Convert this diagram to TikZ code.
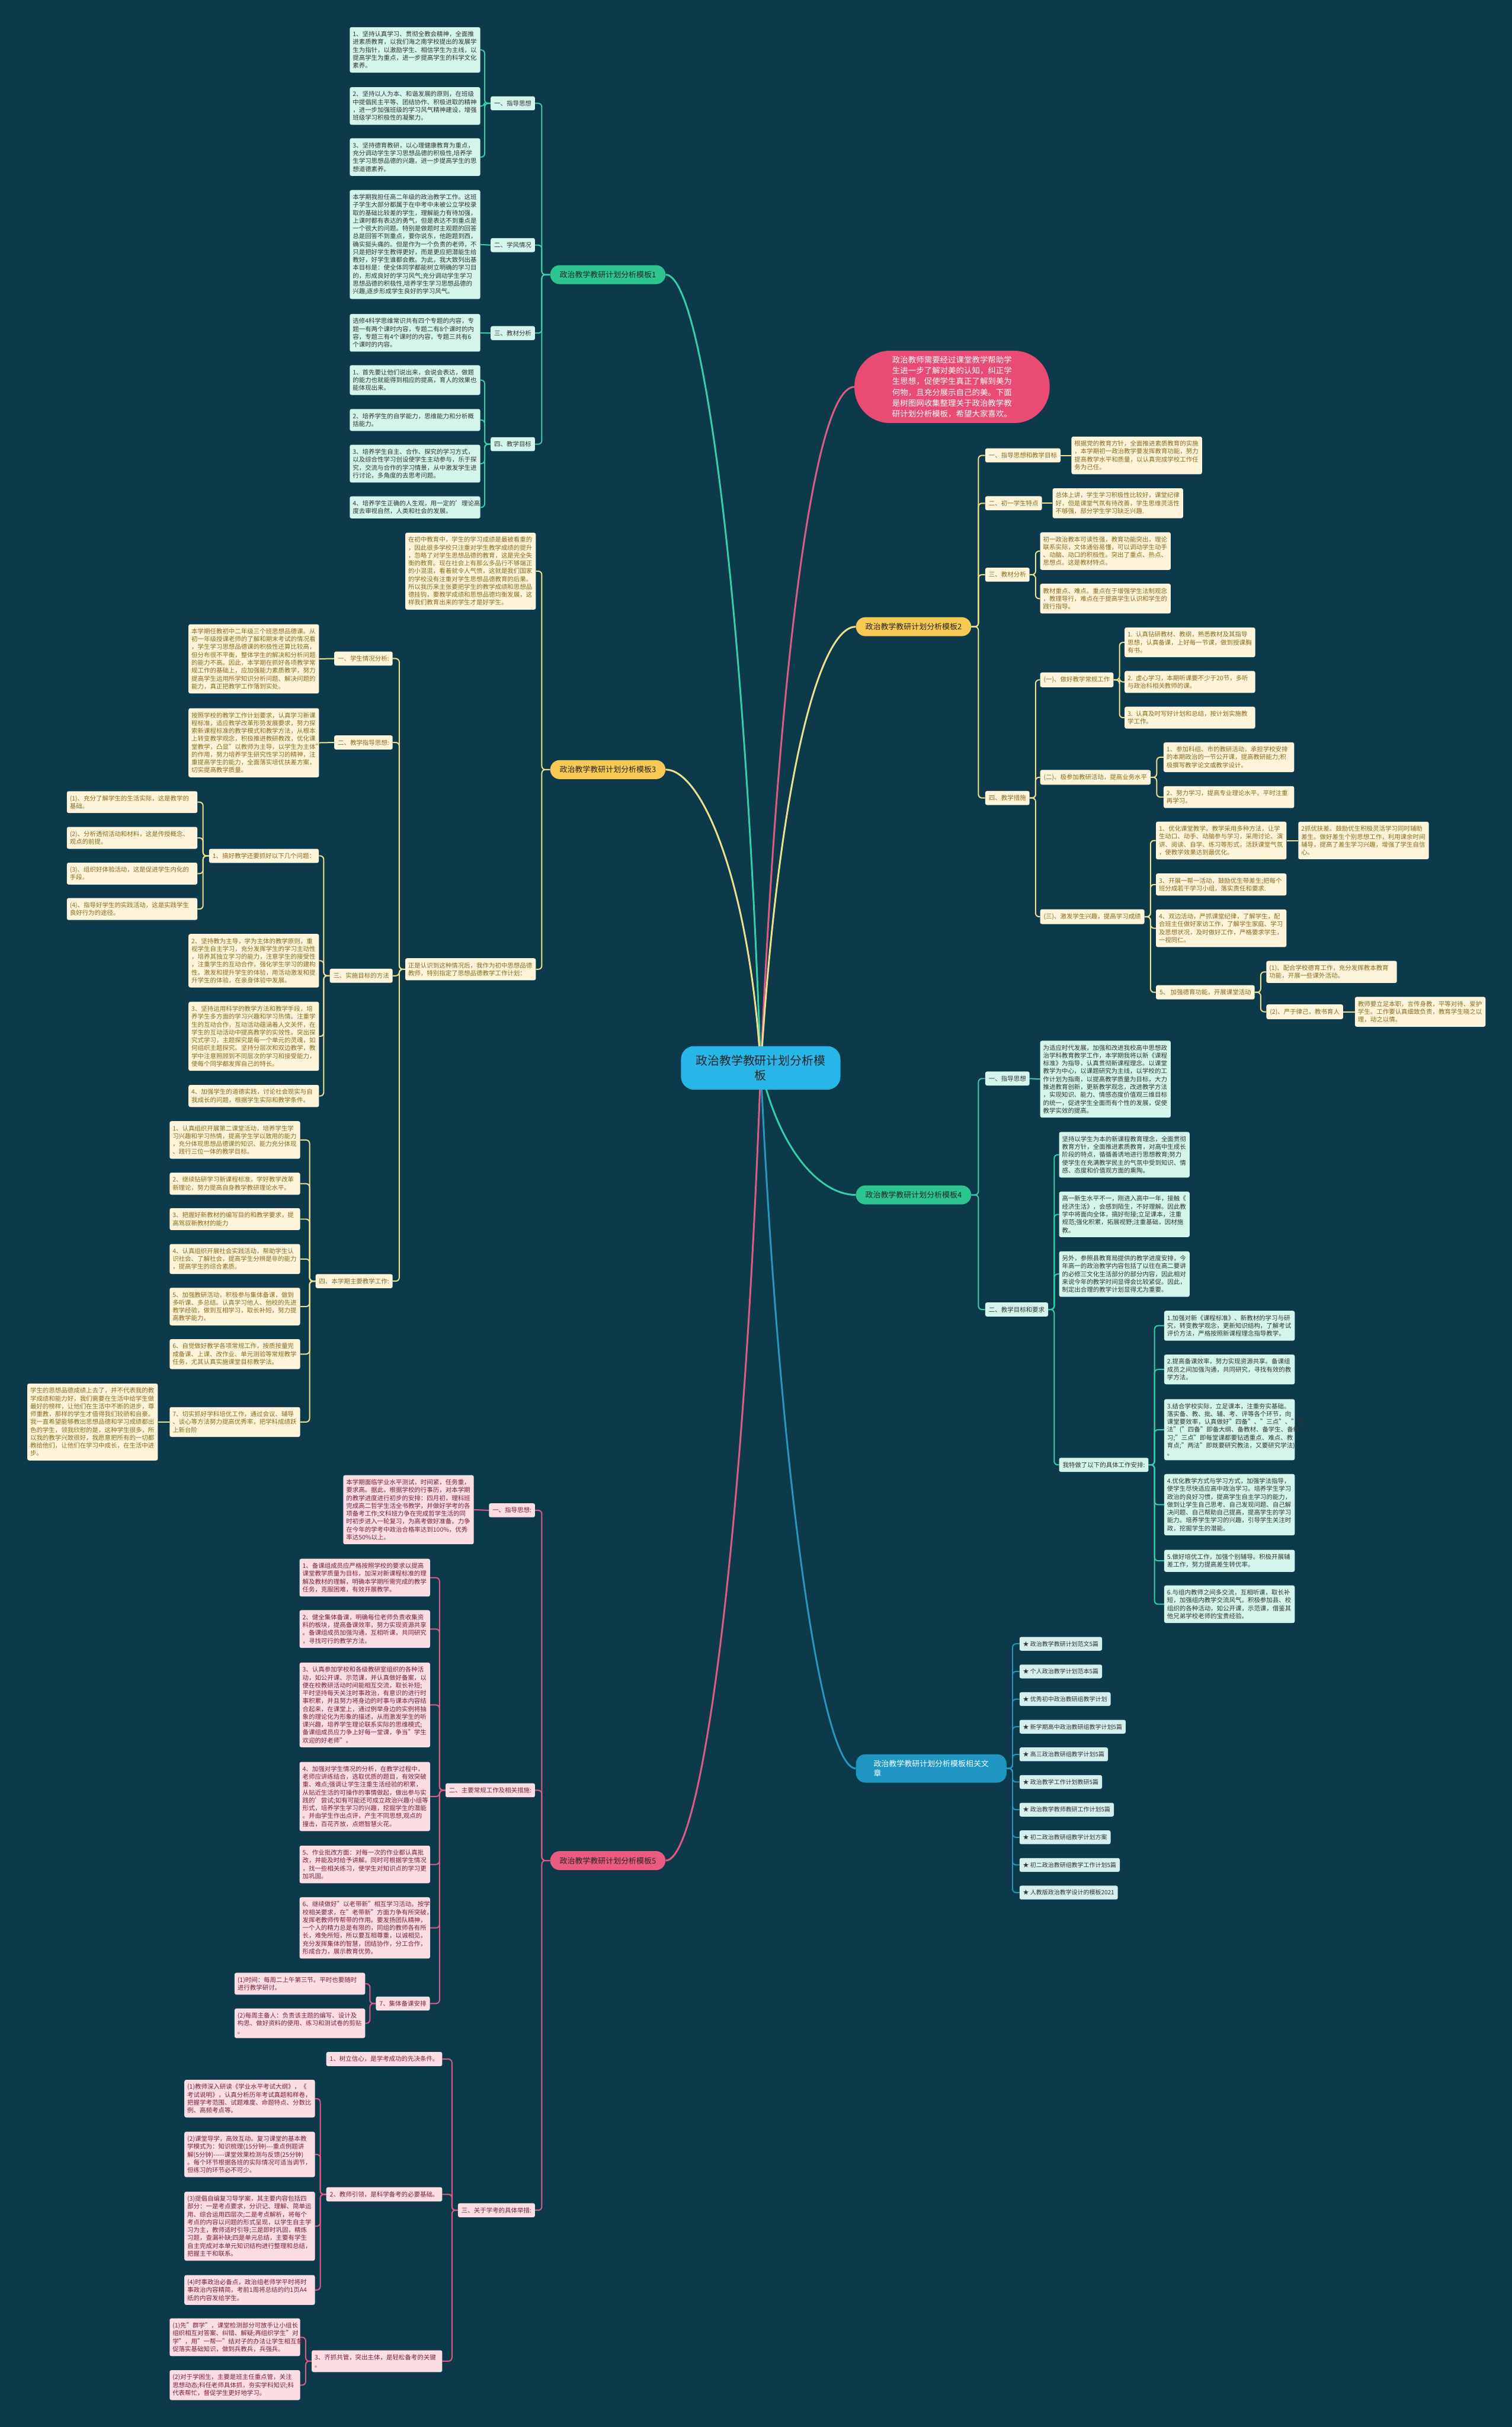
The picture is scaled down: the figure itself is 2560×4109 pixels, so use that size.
\documentclass[tikz,border=0pt]{standalone}
\usepackage{fontspec}
\setmainfont{Noto Sans CJK SC}
\usetikzlibrary{backgrounds}

\definecolor{bgcol}{HTML}{0C3A4A}
\definecolor{mintfill}{HTML}{D3F5EC}
\definecolor{minttext}{HTML}{333333}
\definecolor{mintline}{HTML}{35D0A8}
\definecolor{greenmain}{HTML}{2CC58F}
\definecolor{creamfill}{HTML}{FDF4DA}
\definecolor{creamtext}{HTML}{8C6A1C}
\definecolor{yellowline}{HTML}{EFDF8E}
\definecolor{yellowmain}{HTML}{F7C852}
\definecolor{rosefill}{HTML}{FCDDE3}
\definecolor{rosetext}{HTML}{7E1F3B}
\definecolor{roseline}{HTML}{DD5B84}
\definecolor{rosemain}{HTML}{EB5A80}
\definecolor{bubfill}{HTML}{EA4B73}
\definecolor{bluemain}{HTML}{1F95C2}
\definecolor{blueline}{HTML}{2A96BF}
\definecolor{artfill}{HTML}{D5EFEE}
\definecolor{rootfill}{HTML}{27B6E7}

\newcommand{\leaffnt}{\fontsize{10.5}{13.3}\selectfont}
\newcommand{\brfnt}{\fontsize{13}{16}\selectfont}
\newcommand{\rootfnt}{\fontsize{20}{25}\selectfont}
\newcommand{\bubfnt}{\fontsize{13.5}{18.3}\selectfont}
\newcommand{\artfnt}{\fontsize{10}{12}\selectfont}

\tikzset{
  leaf/.style={rounded corners=3pt, inner xsep=5pt, inner ysep=7pt, text width=211pt, align=left, font=\leaffnt},
  sub/.style={rounded corners=3pt, inner xsep=6pt, inner ysep=7pt, font=\leaffnt},
  mint/.style={fill=mintfill, text=minttext},
  cream/.style={fill=creamfill, text=creamtext},
  rose/.style={fill=rosefill, text=rosetext},
  art/.style={fill=artfill, text=minttext, rounded corners=3pt, inner xsep=6pt, inner ysep=7pt, font=\artfnt},
  branch/.style={rounded corners=16pt, inner xsep=16pt, inner ysep=10pt, font=\brfnt, text=black!85},
  link/.style={line width=2pt, rounded corners=6pt},
  trunk/.style={line width=3pt},
}

\begin{document}
\begin{tikzpicture}[x=1pt, y=-1pt]
\useasboundingbox (0,0) rectangle (2560,4109);
\begin{pgfonlayer}{background}
\fill[bgcol] (0,0) rectangle (2560,4109);
\end{pgfonlayer}

\node[fill=rootfill, text=black!85, rounded corners=22pt, inner xsep=25pt, inner ysep=15pt, align=center, font=\rootfnt] (root) at (1288,1808) {政治教学教研计划分析模\\板};

\node[fill=bubfill, text=white, rounded corners=60pt, inner xsep=64pt, inner ysep=9pt, align=left, font=\bubfnt] (bub) at (1612,655) {政治教师需要经过课堂教学帮助学\\生进一步了解对美的认知，纠正学\\生思想，促使学生真正了解到美为\\何物，且充分展示自己的美。下面\\是树图网收集整理关于政治教学教\\研计划分析模板，希望大家喜欢。};

% branch 1
\node[branch, fill=greenmain, anchor=east] (b1) at (1127,465) {政治教学教研计划分析模板1};
\node[sub, mint, anchor=east] (b1s1) at (906,175) {一、指导思想};
\node[sub, mint, anchor=east] (b1s2) at (906,415) {二、学风情况};
\node[sub, mint, anchor=east] (b1s3) at (906,564) {三、教材分析};
\node[sub, mint, anchor=east] (b1s4) at (906,752) {四、教学目标};
\node[leaf, mint, anchor=west] (b1l1) at (592,84.5) {1、坚持认真学习、贯彻全教会精神，全面推\\进素质教育，以我们海之南学校提出的发展学\\生为指针，以激励学生、相信学生为主线，以\\提高学生为重点，进一步提高学生的科学文化\\素养。};
\node[leaf, mint, anchor=west] (b1l2) at (592,179.5) {2、坚持以人为本、和谐发展的原则，在班级\\中提倡民主平等、团结协作、积极进取的精神\\，进一步加强班级的学习风气精神建设，增强\\班级学习积极性的凝聚力。};
\node[leaf, mint, anchor=west] (b1l3) at (592,266) {3、坚持德育教研，以心理健康教育为重点，\\充分调动学生学习思想品德的积极性,培养学\\生学习思想品德的兴趣，进一步提高学生的思\\想道德素养。};
\node[leaf, mint, anchor=west] (b1l4) at (592,414) {本学期我担任高二年级的政治教学工作。这班\\子学生大部分都属于在中考中未被公立学校录\\取的基础比较差的学生，理解能力有待加强，\\上课时都有表达的勇气，但是表达不到重点是\\一个很大的问题。特别是做题时主观题的回答\\总是回答不到重点，要你说东，他跑题到西，\\确实挺头痛的。但是作为一个负责的老师，不\\只是把好学生教得更好，而是更应把潜能生给\\教好，好学生谁都会教。为此，我大致列出基\\本目标是：使全体同学都能树立明确的学习目\\的，形成良好的学习风气;充分调动学生学习\\思想品德的积极性,培养学生学习思想品德的\\兴趣,逐步形成学生良好的学习风气。};
\node[leaf, mint, anchor=west] (b1l5) at (592,563.5) {选修4科学思维常识共有四个专题的内容，专\\题一有两个课时内容，专题二有8个课时的内\\容，专题三有4个课时的内容，专题三共有6\\个课时的内容。};
\node[leaf, mint, anchor=west] (b1l6) at (592,643.5) {1、首先要让他们说出来，会说会表达，做题\\的能力也就能得到相应的提高，育人的效果也\\能体现出来。};
\node[leaf, mint, anchor=west] (b1l7) at (592,711) {2、培养学生的自学能力，思维能力和分析概\\括能力。};
\node[leaf, mint, anchor=west] (b1l8) at (592,785) {3、培养学生自主、合作、探究的学习方式，\\以及综合性学习创设使学生主动参与，乐于探\\究，交流与合作的学习情景，从中激发学生进\\行讨论，多角度的去思考问题。};
\node[leaf, mint, anchor=west] (b1l9) at (592,859) {4、培养学生正确的人生观，用一定的'理论高\\度去审视自然，人类和社会的发展。};

% branch 2
\node[branch, fill=yellowmain, anchor=west] (b2) at (1449,1061) {政治教学教研计划分析模板2};
\node[sub, cream, anchor=west] (b2s1) at (1668,771) {一、指导思想和教学目标};
\node[sub, cream, anchor=west] (b2s2) at (1668,852) {二、初一学生特点};
\node[sub, cream, anchor=west] (b2s3) at (1668,973) {三、教材分析};
\node[sub, cream, anchor=west] (b2s4) at (1668,1351) {四、教学措施};
\node[leaf, cream, anchor=west] (b2l1) at (1814,771) {根据党的教育方针，全面推进素质教育的实施\\，本学期初一政治教学要发挥教育功能，努力\\提高教学水平和质量，以认真完成学校工作任\\务为己任。};
\node[leaf, cream, anchor=west] (b2l2) at (1782,852) {总体上讲，学生学习积极性比较好，课堂纪律\\好，但是课堂气氛有待改善，学生思维灵活性\\不够强，部分学生学习缺乏兴趣.};
\node[leaf, cream, anchor=west] (b2l3) at (1761,933) {初一政治教本可读性强，教育功能突出，理论\\联系实际，文体通俗易懂，可以调动学生动手\\、动脑、动口的积极性。突出了重点、热点、\\思想点。这是教材特点。};
\node[leaf, cream, anchor=west] (b2l4) at (1761,1013.5) {教材重点、难点。重点在于增强学生法制观念\\，教理导行，难点在于提高学生认识和学生的\\践行指导。};
\node[sub, cream, anchor=west] (b2m1) at (1761,1151) {(一)、做好教学常规工作};
\node[sub, cream, anchor=west] (b2m2) at (1761,1316) {(二)、极参加教研活动，提高业务水平};
\node[sub, cream, anchor=west] (b2m3) at (1761,1552) {(三)、激发学生兴趣，提高学习成绩};
\node[leaf, cream, anchor=west] (b2a1) at (1904,1087.5) {1. 认真钻研教材、教纲，熟悉教材及其指导\\思想，认真备课，上好每一节课，做到授课胸\\有书。};
\node[leaf, cream, anchor=west] (b2a2) at (1904,1154.5) {2. 虚心学习，本期听课要不少于20节，多听\\与政治科相关教师的课。};
\node[leaf, cream, anchor=west] (b2a3) at (1904,1215) {3. 认真及时写好计划和总结，按计划实施教\\学工作。};
\node[leaf, cream, anchor=west] (b2b1) at (1970,1282) {1、参加科组、市的教研活动，承担学校安排\\的本期政治的一节公开课，提高教研能力;积\\极撰写教学论文或教学设计。};
\node[leaf, cream, anchor=west] (b2b2) at (1970,1349.5) {2、努力学习，提高专业理论水平。平时注重\\再学习。};
\node[leaf, cream, anchor=west] (b2c1) at (1957,1423) {1、优化课堂教学。教学采用多种方法，让学\\生动口、动手、动脑参与学习，采用讨论、演\\讲、阅读、自学、练习等形式，活跃课堂气氛\\，使教学效果达到最优化。};
\node[leaf, cream, anchor=west] (b2c1x) at (2198,1423) {2抓优扶差。鼓励优生积极灵活学习同时辅助\\差生。做好差生个别思想工作，利用课余时间\\辅导，提高了差生学习兴趣，增强了学生自信\\心。};
\node[leaf, cream, anchor=west] (b2c3) at (1957,1497.5) {3、开展一帮一活动，鼓励优生带差生;把每个\\班分成若干学习小组，落实责任和要求.};
\node[leaf, cream, anchor=west] (b2c4) at (1957,1571.5) {4、双边活动，严抓课堂纪律，了解学生，配\\合班主任做好家访工作，了解学生家庭、学习\\及思想状况，及时做好工作，严格要求学生，\\一视同仁。};
\node[sub, cream, anchor=west] (b2c5) at (1957,1680) {5、 加强德育功能，开展课堂活动};
\node[leaf, cream, anchor=west] (b2d1) at (2144,1645.5) {(1)、配合学校德育工作，充分发挥教本教育\\功能，开展一些课外活动。};
\node[sub, cream, anchor=west] (b2d2) at (2144,1713) {(2)、严于律己，教书育人};
\node[leaf, cream, anchor=west] (b2d3) at (2294,1713) {教师要立足本职，言传身教，平等对待、爱护\\学生。工作要认真细致负责，教育学生晓之以\\理，动之以情。};

% branch 3
\node[branch, fill=yellowmain, anchor=east] (b3) at (1127,1303) {政治教学教研计划分析模板3};
\node[leaf, cream, anchor=west] (b3p1) at (686,967) {在初中教育中，学生的学习成绩是最被看重的\\，因此很多学校只注重对学生教学成绩的提升\\，忽略了对学生思想品德的教育，这是完全失\\衡的教育。现在社会上有那么多品行不够端正\\的小混混，看着就令人气愤，这就是我们国家\\的学校没有注重对学生思想品德教育的后果。\\所以我历来主张要把学生的教学成绩和思想品\\德挂钩，要教学成绩和思想品德均衡发展，这\\样我们教育出来的学生才是好学生。};
\node[leaf, cream, anchor=west] (b3p2) at (686,1641) {正是认识到这种情况后，我作为初中思想品德\\教师，特别指定了思想品德教学工作计划：};
\node[sub, cream, anchor=east] (b3s1) at (665,1115) {一、学生情况分析:};
\node[sub, cream, anchor=east] (b3s2) at (665,1257) {二、教学指导思想:};
\node[sub, cream, anchor=east] (b3s3) at (665,1652) {三、实施目标的方法};
\node[sub, cream, anchor=east] (b3s4) at (665,2169) {四、本学期主要教学工作:};
\node[leaf, cream, anchor=west] (b3l1) at (319,1115.5) {本学期任教初中二年级三个班思想品德课。从\\初一年级授课老师的了解和期末考试的情况看\\，学生学习思想品德课的积极性还算比较高，\\但分布很不平衡，整体学生的解决和分析问题\\的能力不高。因此，本学期在抓好各项教学常\\规工作的基础上，应加强能力素质教学，努力\\提高学生运用所学知识分析问题、解决问题的\\能力，真正把教学工作落到实处。};
\node[leaf, cream, anchor=west] (b3l2) at (319,1257.5) {按照学校的教学工作计划要求，认真学习新课\\程标准，适应教学改革形势发展要求，努力探\\索新课程标准的教学模式和教学方法，从根本\\上转变教学观念，积极推进教研教改，优化课\\堂教学，凸显"以教师为主导，以学生为主体"\\的作用，努力培养学生研究性学习的精神，注\\重提高学生的能力，全面落实培优扶差方案，\\切实提高教学质量。};
\node[sub, cream, anchor=east] (b3t1) at (540,1449) {1、搞好教学还要抓好以下几个问题：};
\node[leaf, cream, anchor=west] (b3q1) at (113,1358) {(1)、充分了解学生的生活实际，这是教学的\\基础。};
\node[leaf, cream, anchor=west] (b3q2) at (113,1418.5) {(2)、分析透彻活动和材料，这是传授概念、\\观点的前提。};
\node[leaf, cream, anchor=west] (b3q3) at (113,1479) {(3)、组织好体验活动，这是促进学生内化的\\手段。};
\node[leaf, cream, anchor=west] (b3q4) at (113,1539) {(4)、指导好学生的实践活动，这是实践学生\\良好行为的途径。};
\node[leaf, cream, anchor=west] (b3t2) at (319,1626.5) {2、坚持教为主导，学为主体的教学原则，重\\视学生自主学习，充分发挥学生的学习主动性\\，培养其独立学习的能力，注意学生的接受性\\，注重学生的互动合作，强化学生学习的建构\\性。激发和提升学生的体验，用活动激发和提\\升学生的体验，在亲身体验中发展。};
\node[leaf, cream, anchor=west] (b3t3) at (319,1754.5) {3、坚持运用科学的教学方法和教学手段，培\\养学生多方面的学习兴趣和学习热情。注重学\\生的互动合作，互动活动蕴涵着人文关怀，在\\学生的互动活动中提高教学的实效性。突出探\\究式学习，主题探究是每一个单元的灵魂，如\\何组织主题探究。坚持分层次和双边教学，教\\学中注意照顾到不同层次的学习和接受能力，\\使每个同学都发挥自己的特长。};
\node[leaf, cream, anchor=west] (b3t4) at (319,1855.5) {4、加强学生的道德实践，讨论社会现实与自\\我成长的问题，根据学生实际和教学条件。};
\node[leaf, cream, anchor=west] (b3w1) at (287,1930) {1、认真组织开展第二课堂活动，培养学生学\\习兴趣和学习热情，提高学生学以致用的能力\\，充分体现思想品德课的知识、能力充分体现\\、践行三位一体的教学目标。};
\node[leaf, cream, anchor=west] (b3w2) at (287,2004) {2、继续钻研学习新课程标准，学好教学改革\\新理论，努力提高自身教学教研理论水平。};
\node[leaf, cream, anchor=west] (b3w3) at (287,2064) {3、把握好新教材的编写目的和教学要求，提\\高驾驭新教材的能力};
\node[leaf, cream, anchor=west] (b3w4) at (287,2131.5) {4、认真组织开展社会实践活动，帮助学生认\\识社会、了解社会，提高学生分辨是非的能力\\，提高学生的综合素质。};
\node[leaf, cream, anchor=west] (b3w5) at (287,2212) {5、加强教研活动，积极参与集体备课，做到\\多听课、多总结。认真学习他人、他校的先进\\教学经验，做到互相学习，取长补短，努力提\\高教学能力。};
\node[leaf, cream, anchor=west] (b3w6) at (287,2292.5) {6、自觉做好教学各项常规工作，按质按量完\\成备课、上课、改作业、单元测验等常规教学\\任务，尤其认真实施课堂目标教学法。};
\node[leaf, cream, anchor=west] (b3w7) at (287,2407.5) {7、切实抓好学科培优工作，通过会议、辅导\\、谈心等方法努力提高优秀率，把学科成绩跃\\上新台阶};
\node[leaf, cream, anchor=west] (b3w7x) at (46,2407.5) {学生的思想品德成绩上去了，并不代表我的教\\学成绩和能力好，我们需要在生活中给学生做\\最好的榜样，让他们在生活中不断的进步，尊\\师重教，那样的学生才值得我们较骄和自豪。\\我一直希望能够教出思想品德和学习成绩都出\\色的学生，领我欣慰的是，这种学生很多，所\\以我的教学兴致很好，我愿意把所有的一切都\\教给他们，让他们在学习中成长，在生活中进\\步。};

% branch 4
\node[branch, fill=greenmain, anchor=west] (b4) at (1449,2023) {政治教学教研计划分析模板4};
\node[sub, mint, anchor=west] (b4s1) at (1668,1826) {一、指导思想};
\node[sub, mint, anchor=west] (b4s2) at (1668,2217) {二、教学目标和要求};
\node[leaf, mint, anchor=west] (b4l1) at (1761,1827) {为适应时代发展，加强和改进我校高中思想政\\治学科教育教学工作，本学期我将以新《课程\\标准》为指导，认真贯彻新课程理念。以课堂\\教学为中心，以课题研究为主线，以学校的工\\作计划为指南，以提高教学质量为目标，大力\\推进教育创新，更新教学观念，改进教学方法\\，实现知识、能力、情感态度价值观三维目标\\的统一，促进学生全面而有个性的发展，促使\\教学实效的提高。};
\node[leaf, mint, anchor=west] (b4a) at (1793,1955) {坚持以学生为本的新课程教育理念，全面贯彻\\教育方针，全面推进素质教育，对高中生成长\\阶段的特点，循循善诱地进行思想教育;努力\\使学生在充满教学民主的气氛中受到知识、情\\感、态度和价值观方面的熏陶。};
\node[leaf, mint, anchor=west] (b4b) at (1793,2056) {高一新生水平不一，刚进入高中一年，接触《\\经济生活》，会感到陌生，不好理解。因此教\\学中将面向全体，搞好衔接;立足课本，注重\\规范;强化积累，拓展视野;注重基础，因材施\\教。};
\node[leaf, mint, anchor=west] (b4c) at (1793,2157) {另外，参照县教育局提供的教学进度安排，今\\年高一的政治教学内容包括了以往在高二要讲\\的必修三文化生活部分的部分内容，因此相对\\来说今年的教学时间显得会比较紧促。因此，\\制定出合理的教学计划显得尤为重要。};
\node[sub, mint, anchor=west] (b4d) at (1793,2480) {我特做了以下的具体工作安排:};
\node[leaf, mint, anchor=west] (b4k1) at (1971,2244.5) {1.加强对新《课程标准》、新教材的学习与研\\究，转变教学观念，更新知识结构，了解考试\\评价方法，严格按照新课程理念指导教学。};
\node[leaf, mint, anchor=west] (b4k2) at (1971,2318.5) {2.提高备课效率，努力实现资源共享。备课组\\成员之间加强沟通，共同研究，寻找有效的教\\学方法。};
\node[leaf, mint, anchor=west] (b4k3) at (1971,2420.5) {3.结合学校实际，立足课本，注重夯实基础。\\落实备、教、批、辅、考、评等各个环节，向\\课堂要效率，认真做好"四备"、"三点"、"两\\法"("四备"即备大纲、备教材、备学生、备练\\习;"三点"即每堂课都要钻透重点、难点、教\\育点;"两法"即既要研究教法，又要研究学法)\\。};
\node[leaf, mint, anchor=west] (b4k4) at (1971,2547.5) {4.优化教学方式与学习方式，加强学法指导，\\使学生尽快适应高中政治学习。培养学生学习\\政治的良好习惯，提高学生自主学习的能力，\\做到让学生自己思考、自己发现问题、自己解\\决问题、自己帮助自己提高，提高学生的学习\\能力。培养学生学习的兴趣，引导学生关注时\\政，挖掘学生的潜能。};
\node[leaf, mint, anchor=west] (b4k5) at (1971,2642.5) {5.做好培优工作，加强个别辅导。积极开展辅\\差工作，努力提高差生转优率。};
\node[leaf, mint, anchor=west] (b4k6) at (1971,2716) {6.与组内教师之间多交流，互相听课，取长补\\短，加强组内教学交流风气。积极参加县、校\\组织的各种活动，如公开课，示范课，借鉴其\\他兄弟学校老师的宝贵经验。};

% related
\node[branch, fill=bluemain, text=white, anchor=west, align=left, inner xsep=30pt] (rel) at (1449,2994) {政治教学教研计划分析模板相关文\\章};
\foreach \t [count=\i] in {政治教学教研计划范文5篇, 个人政治教学计划范本5篇, 优秀初中政治教研组教学计划, 新学期高中政治教研组教学计划5篇, 高三政治教研组教学计划5篇, 政治教学工作计划教研5篇, 政治教学教师教研工作计划5篇, 初二政治教研组教学计划方案, 初二政治教研组教学工作计划5篇, 人教版政治教学设计的模板2021}
  \node[art, anchor=west] (art\i) at (1726,{2736.2+46.8*\i}) {★ \t};

% branch 5
\node[branch, fill=rosemain, anchor=east] (b5) at (1127,3150) {政治教学教研计划分析模板5};
\node[sub, rose, anchor=east] (b5s1) at (906,2557) {一、指导思想:};
\node[sub, rose, anchor=east] (b5s2) at (906,3031) {二、主要常规工作及相关措施:};
\node[sub, rose, anchor=east] (b5s3) at (906,3742) {三、关于学考的具体举措:};
\node[leaf, rose, anchor=west] (b5l1) at (581,2556) {本学期面临学业水平测试，时间紧，任务重，\\要求高。据此，根据学校的行事历，对本学期\\的教学进度进行初步的安排：四月初，理科班\\完成高二哲学生活全书教学，并做好学考的各\\项备考工作;文科班力争在完成哲学生活的同\\时初步进入一轮复习，为高考做好准备。力争\\在今年的学考中政治合格率达到100\%，优秀\\率达50\%以上。};
\node[leaf, rose, anchor=west] (b5m1) at (507,2671) {1、备课组成员应严格按照学校的要求以提高\\课堂教学质量为目标，加深对新课程标准的理\\解及教材的理解，明确本学期所需完成的教学\\任务，克服困难，有效开展教学。};
\node[leaf, rose, anchor=west] (b5m2) at (507,2758) {2、健全集体备课，明确每位老师负责收集资\\料的板块，提高备课效率，努力实现资源共享\\。备课组成员加强沟通，互相听课，共同研究\\，寻找可行的教学方法。};
\node[leaf, rose, anchor=west] (b5m3) at (507,2886.5) {3、认真参加学校和各级教研室组织的各种活\\动，如公开课、示范课，并认真做好备案，以\\便在校教研活动时间能相互交流，取长补短;\\平时坚持每天关注时事政治，有意识的进行时\\事积累，并且努力将身边的时事与课本内容结\\合起来，在课堂上，通过例举身边的实例将抽\\象的理论化为形象的描述，从而激发学生的听\\课兴趣，培养学生理论联系实际的思维模式;\\备课组成员应力争上好每一堂课，争当"学生\\欢迎的好老师"。};
\node[leaf, rose, anchor=west] (b5m4) at (507,3041.5) {4、加强对学生情况的分析，在教学过程中，\\老师应讲练结合，选取优质的题目，有效突破\\重、难点;强调让学生注重生活经验的积累，\\从贴近生活的可操作的事情做起，做出参与实\\践的'尝试;如有可能还可成立政治兴趣小组等\\形式，培养学生学习的兴趣，挖掘学生的潜能\\。并由学生作出点评，产生不同思想,观点的\\撞击，百花齐放，点燃智慧火花。};
\node[leaf, rose, anchor=west] (b5m5) at (507,3156.5) {5、作业批改方面：对每一次的作业都认真批\\改，并能及时给予讲解。同时可根据学生情况\\，找一些相关练习，使学生对知识点的学习更\\加巩固。};
\node[leaf, rose, anchor=west] (b5m6) at (507,3264) {6、继续做好"以老带新"相互学习活动。按学\\校相关要求，在"老带新"方面力争有所突破，\\发挥老教师传帮带的作用。要发扬团队精神，\\一个人的精力总是有限的，同组的教师各有所\\长，难免所短，所以要互相尊重，以诚相见，\\充分发挥集体的智慧，团结协作，分工合作，\\形成合力，展示教育优势。};
\node[sub, rose, anchor=east] (b5m7) at (728,3392) {7、集体备课安排};
\node[leaf, rose, anchor=west] (b5n1) at (397,3358.5) {(1)时间：每周二上午第三节。平时也要随时\\进行教学研讨。};
\node[leaf, rose, anchor=west] (b5n2) at (397,3425.5) {(2)每周主备人：负责该主题的编写、设计及\\构思、做好资料的使用、练习和测试卷的剪贴\\。};
\node[sub, rose, anchor=east] (b5r1) at (749,3486) {1、树立信心，是学考成功的先决条件。};
\node[sub, rose, anchor=east] (b5r2) at (749,3715) {2、教师引领，是科学备考的必要基础。};
\node[leaf, rose, anchor=east] (b5r3) at (749,3997.5) {3、齐抓共管，突出主体，是轻松备考的关键\\。};
\node[leaf, rose, anchor=west] (b5x1) at (312,3553) {(1)教师深入研读《学业水平考试大纲》，《\\考试说明》，认真分析历年考试真题和样卷，\\把握学考范围、试题难度、命题特点、分数比\\例、高频考点等。};
\node[leaf, rose, anchor=west] (b5x2) at (312,3647.5) {(2)课堂导学，高效互动。复习课堂的基本教\\学模式为：知识梳理(15分钟)-{}-{}-重点例题讲\\解(5分钟)-{}-{}-{}-{}-课堂效果检测与反馈(25分钟)\\。每个环节根据各班的实际情况可适当调节，\\但练习的环节必不可少。};
\node[leaf, rose, anchor=west] (b5x3) at (312,3769) {(3)提倡自编复习导学案，其主要内容包括四\\部分：一是考点要求，分识记、理解、简单运\\用、综合运用四层次;二是考点解析，将每个\\考点的内容以问题的形式呈现，以学生自主学\\习为主，教师适时引导;三是即时巩固，精炼\\习题，查漏补缺;四是单元总结，主要有学生\\自主完成对本单元知识结构进行整理和总结，\\把握主干和联系。};
\node[leaf, rose, anchor=west] (b5x4) at (312,3877) {(4)时事政治必备点，政治组老师学平时将时\\事政治内容精简，考前1周将总结的约1页A4\\纸的内容发给学生。};
\node[leaf, rose, anchor=west] (b5y1) at (287,3957) {(1)先"群学"，课堂检测部分可放手让小组长\\组织相互对答案、纠错、解疑;再组织学生"对\\学"，用"一帮一"结对子的办法让学生相互督\\促落实基础知识，做到兵教兵，兵强兵。};
\node[leaf, rose, anchor=west] (b5y2) at (287,4038) {(2)对于学困生，主要是班主任重点管，关注\\思想动态;科任老师具体抓，夯实学科知识;科\\代表帮忙，督促学生更好地学习。};

\begin{scope}[on background layer]
\draw[trunk, mintline] (root.center) .. controls (1260,1000) and (1190,465) .. (b1.east);
\draw[trunk, roseline] (root.center) .. controls (1320,1100) and (1380,655) .. (bub.west);
\draw[trunk, yellowline] (root.center) .. controls (1320,1300) and (1390,1061) .. (b2.west);
\draw[trunk, yellowline] (root.center) .. controls (1270,1500) and (1190,1303) .. (b3.east);
\draw[trunk, mintline] (root.center) .. controls (1320,1950) and (1390,2023) .. (b4.west);
\draw[trunk, blueline] (root.center) .. controls (1320,2500) and (1390,2994) .. (rel.west);
\draw[trunk, roseline] (root.center) .. controls (1260,2600) and (1190,3150) .. (b5.east);

\foreach \c in {b1s1,b1s2,b1s3,b1s4} \draw[link, mintline] (b1.west) -- ++(-14,0) |- (\c.east);
\foreach \c in {b1l1,b1l2,b1l3} \draw[link, mintline] (b1s1.west) -- ++(-10,0) |- (\c.east);
\draw[link, mintline] (b1s2.west) -- (b1l4.east);
\draw[link, mintline] (b1s3.west) -- (b1l5.east);
\foreach \c in {b1l6,b1l7,b1l8,b1l9} \draw[link, mintline] (b1s4.west) -- ++(-10,0) |- (\c.east);

\foreach \c in {b2s1,b2s2,b2s3,b2s4} \draw[link, yellowline] (b2.east) -- ++(12,0) |- (\c.west);
\draw[link, yellowline] (b2s1.east) -- (b2l1.west);
\draw[link, yellowline] (b2s2.east) -- (b2l2.west);
\foreach \c in {b2l3,b2l4} \draw[link, yellowline] (b2s3.east) -- ++(10,0) |- (\c.west);
\foreach \c in {b2m1,b2m2,b2m3} \draw[link, yellowline] (b2s4.east) -- ++(10,0) |- (\c.west);
\foreach \c in {b2a1,b2a2,b2a3} \draw[link, yellowline] (b2m1.east) -- ++(10,0) |- (\c.west);
\foreach \c in {b2b1,b2b2} \draw[link, yellowline] (b2m2.east) -- ++(10,0) |- (\c.west);
\foreach \c in {b2c1,b2c3,b2c4,b2c5} \draw[link, yellowline] (b2m3.east) -- ++(10,0) |- (\c.west);
\draw[link, yellowline] (b2c1.east) -- (b2c1x.west);
\foreach \c in {b2d1,b2d2} \draw[link, yellowline] (b2c5.east) -- ++(10,0) |- (\c.west);
\draw[link, yellowline] (b2d2.east) -- (b2d3.west);

\foreach \c in {b3p1,b3p2} \draw[link, yellowline] (b3.west) -- ++(-14,0) |- (\c.east);
\foreach \c in {b3s1,b3s2,b3s3,b3s4} \draw[link, yellowline] (b3p2.west) -- ++(-10,0) |- (\c.east);
\draw[link, yellowline] (b3s1.west) -- (b3l1.east);
\draw[link, yellowline] (b3s2.west) -- (b3l2.east);
\foreach \c in {b3t1,b3t2,b3t3,b3t4} \draw[link, yellowline] (b3s3.west) -- ++(-10,0) |- (\c.east);
\foreach \c in {b3q1,b3q2,b3q3,b3q4} \draw[link, yellowline] (b3t1.west) -- ++(-10,0) |- (\c.east);
\foreach \c in {b3w1,b3w2,b3w3,b3w4,b3w5,b3w6,b3w7} \draw[link, yellowline] (b3s4.west) -- ++(-10,0) |- (\c.east);
\draw[link, yellowline] (b3w7.west) -- (b3w7x.east);

\foreach \c in {b4s1,b4s2} \draw[link, mintline] (b4.east) -- ++(12,0) |- (\c.west);
\draw[link, mintline] (b4s1.east) -- (b4l1.west);
\foreach \c in {b4a,b4b,b4c,b4d} \draw[link, mintline] (b4s2.east) -- ++(10,0) |- (\c.west);
\foreach \c in {b4k1,b4k2,b4k3,b4k4,b4k5,b4k6} \draw[link, mintline] (b4d.east) -- ++(10,0) |- (\c.west);

\foreach \i in {1,...,10} \draw[link, blueline] (rel.east) -- ++(10,0) |- (art\i.west);

\foreach \c in {b5s1,b5s2,b5s3} \draw[link, roseline] (b5.west) -- ++(-14,0) |- (\c.east);
\draw[link, roseline] (b5s1.west) -- (b5l1.east);
\foreach \c in {b5m1,b5m2,b5m3,b5m4,b5m5,b5m6,b5m7} \draw[link, roseline] (b5s2.west) -- ++(-10,0) |- (\c.east);
\foreach \c in {b5n1,b5n2} \draw[link, roseline] (b5m7.west) -- ++(-10,0) |- (\c.east);
\foreach \c in {b5r1,b5r2,b5r3} \draw[link, roseline] (b5s3.west) -- ++(-10,0) |- (\c.east);
\foreach \c in {b5x1,b5x2,b5x3,b5x4} \draw[link, roseline] (b5r2.west) -- ++(-10,0) |- (\c.east);
\foreach \c in {b5y1,b5y2} \draw[link, roseline] (b5r3.west) -- ++(-10,0) |- (\c.east);
\end{scope}
\end{tikzpicture}
\end{document}
